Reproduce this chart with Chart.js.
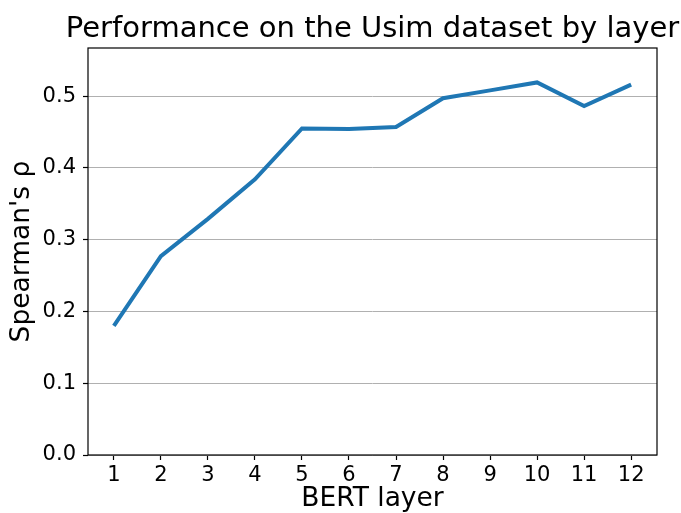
<!DOCTYPE html>
<html>
<head>
<meta charset="utf-8">
<script src="https://cdn.jsdelivr.net/npm/chart.js@4"></script>
<style>
  html, body { margin: 0; padding: 0; background: #fff; }
  #wrap { width: 681px; height: 513px; }
</style>
</head>
<body>
<div id="wrap"><canvas id="layerChart" width="681" height="513"></canvas></div>
<script>
// data
const layers = [1, 2, 3, 4, 5, 6, 7, 8, 9, 10, 11, 12];
const spearman = [0.180, 0.277, 0.329, 0.384, 0.455, 0.454, 0.457, 0.497, 0.508, 0.519, 0.486, 0.516];
const yTicks = [0.0, 0.1, 0.2, 0.3, 0.4, 0.5];
const chartTitle = "Performance on the Usim dataset by layer";

const FONT = "'DejaVu Sans', sans-serif";

// box round the plot area, like matplotlib's spines
const frame = {
    id: "frame",
    afterDraw(chart) {
        const { ctx, chartArea: a } = chart;
        ctx.save();
        ctx.strokeStyle = "#000";
        ctx.lineWidth = 1.2;
        ctx.strokeRect(a.left, a.top, a.right - a.left, a.bottom - a.top);
        ctx.restore();
    }
};

// title centred over the axes and allowed to run past them (the built-in one gets squeezed)
const axesTitle = {
    id: "axesTitle",
    afterDraw(chart) {
        const { ctx, chartArea: a } = chart;
        ctx.save();
        ctx.font = "29px " + FONT;
        ctx.fillStyle = "#000";
        ctx.textAlign = "center";
        ctx.textBaseline = "alphabetic";
        ctx.fillText(chartTitle, (a.left + a.right) / 2, 37);
        ctx.restore();
    }
};

Chart.defaults.font.family = FONT;
Chart.defaults.color = "#000";

new Chart(document.getElementById("layerChart"), {
    type: "line",
    data: {
        datasets: [{
            data: layers.map((l, i) => ({ x: l, y: spearman[i] })),
            borderColor: "#1f77b4",
            borderWidth: 4,
            pointRadius: 0,
            fill: false,
            tension: 0
        }]
    },
    options: {
        responsive: false,
        animation: false,
        layout: { padding: { left: 0, right: 24, top: 48, bottom: 0 } },
        plugins: {
            legend: { display: false },
            tooltip: { enabled: false },
            title: { display: false }
        },
        scales: {
            x: {
                type: "linear",
                min: 0.45,
                max: 12.55,
                afterBuildTicks: (s) => { s.ticks = layers.map(v => ({ value: v })); },
                afterFit: (s) => { s.height = 58; },
                grid: { drawOnChartArea: false, tickLength: 5, tickColor: "#000", tickWidth: 1.2 },
                border: { display: false },
                ticks: { font: { size: 21 }, padding: 3, maxRotation: 0, autoSkip: false },
                title: {
                    display: true,
                    text: "BERT layer",
                    font: { size: 26.5, lineHeight: 1 },
                    padding: { top: 0, bottom: 1 }
                }
            },
            y: {
                min: 0,
                max: 0.567,
                afterBuildTicks: (s) => { s.ticks = yTicks.map(v => ({ value: v })); },
                afterFit: (s) => { s.width = 88; },
                grid: { color: "#b0b0b0", lineWidth: 1, tickLength: 5, tickColor: "#000", tickWidth: 1.2 },
                border: { display: false },
                ticks: {
                    font: { size: 21 },
                    padding: 7,
                    callback: (v) => v.toFixed(1)
                },
                title: {
                    display: true,
                    text: "Spearman's ρ",
                    font: { size: 26.5, lineHeight: 1 },
                    padding: { top: 8.75, bottom: 0 }
                }
            }
        }
    },
    plugins: [frame, axesTitle]
});
</script>
</body>
</html>
